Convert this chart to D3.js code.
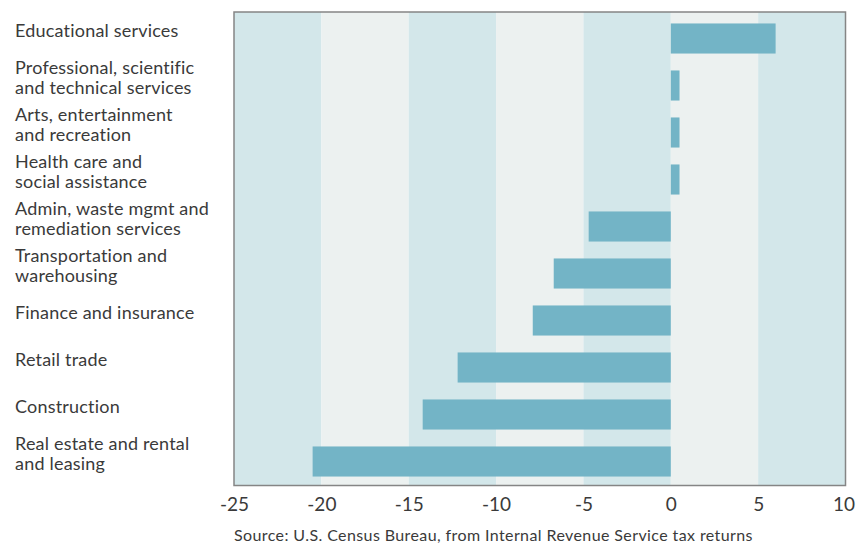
<!DOCTYPE html>
<html>
<head>
<meta charset="utf-8">
<script src="https://cdn.jsdelivr.net/npm/d3@7"></script>
<style>
  html, body { margin: 0; padding: 0; background: #fff; }
  svg { display: block; font-family: Lato, "Open Sans", sans-serif; }
</style>
</head>
<body>
<svg id="chart" width="856" height="543"></svg>
<script>
// Industries, top to bottom (line breaks mark the wrapped labels)
const categories = [
  "Educational services",
  "Professional, scientific\nand technical services",
  "Arts, entertainment\nand recreation",
  "Health care and\nsocial assistance",
  "Admin, waste mgmt and\nremediation services",
  "Transportation and\nwarehousing",
  "Finance and insurance",
  "Retail trade",
  "Construction",
  "Real estate and rental\nand leasing"
];

// Percent change per industry
const values = [6.0, 0.5, 0.5, 0.5, -4.7, -6.7, -7.9, -12.2, -14.2, -20.5];

// Axis ticks
const tickValues = [-25, -20, -15, -10, -5, 0, 5, 10];
const tickLabels = ["-25", "-20", "-15", "-10", "-5", "0", "5", "10"];

const sourceNote = "Source: U.S. Census Bureau, from Internal Revenue Service tax returns";

// ---- layout ----
const plot = { left: 234, right: 845.5, top: 12, bottom: 485.5 };
const colors = {
  bandA: "#d3e7ea",
  bandB: "#ecf1f0",
  bar: "#73b4c6",
  frame: "#858585",
  text: "#3a3a3a"
};

const svg = d3.select("#chart");

const x = d3.scaleLinear()
  .domain([tickValues[0], tickValues[tickValues.length - 1]])
  .range([plot.left, plot.right]);

const y = d3.scaleBand()
  .domain(categories)
  .range([15, 485])
  .paddingInner(0.36)
  .paddingOuter(0.18);

// Alternating vertical background bands between ticks
svg.append("g")
  .selectAll("rect")
  .data(d3.pairs(tickValues))
  .join("rect")
  .attr("x", d => x(d[0]))
  .attr("width", d => x(d[1]) - x(d[0]))
  .attr("y", plot.top)
  .attr("height", plot.bottom - plot.top)
  .attr("fill", (d, i) => i % 2 === 0 ? colors.bandA : colors.bandB);

// Bars
svg.append("g")
  .selectAll("rect")
  .data(categories.map((c, i) => ({ c, v: values[i] })))
  .join("rect")
  .attr("x", d => x(Math.min(0, d.v)))
  .attr("width", d => Math.abs(x(d.v) - x(0)))
  .attr("y", d => y(d.c))
  .attr("height", y.bandwidth())
  .attr("fill", colors.bar);

// Frame around plot area
svg.append("rect")
  .attr("x", plot.left)
  .attr("y", plot.top)
  .attr("width", plot.right - plot.left)
  .attr("height", plot.bottom - plot.top)
  .attr("fill", "none")
  .attr("stroke", colors.frame)
  .attr("stroke-width", 1.5);

// Bottom axis labels
const xAxis = d3.axisBottom(x)
  .tickValues(tickValues)
  .tickFormat((d, i) => tickLabels[i])
  .tickSize(0)
  .tickPadding(12);

const axisG = svg.append("g")
  .attr("transform", `translate(0,${plot.bottom})`)
  .call(xAxis);
axisG.select(".domain").remove();
axisG.selectAll("text")
  .attr("fill", colors.text)
  .style("font-family", "Lato, 'Open Sans', sans-serif")
  .style("font-size", "19px");
// keep the last label inside the canvas
axisG.selectAll(".tick:last-of-type text").attr("dx", "-2px");

// Category labels on the left
const lineHeight = 20;
const labels = svg.append("g")
  .attr("fill", colors.text)
  .style("font-size", "18px")
  .style("letter-spacing", "0.2px");

categories.forEach(c => {
  const lines = c.split("\n");
  const center = y(c) + y.bandwidth() / 2 - 7.5;
  const firstLine = center - (lines.length - 1) * lineHeight / 2;
  const t = labels.append("text").attr("x", 15);
  lines.forEach((ln, j) => {
    t.append("tspan")
      .attr("x", 15)
      .attr("y", firstLine + j * lineHeight + 6)
      .text(ln);
  });
});

// Source note
svg.append("text")
  .attr("x", plot.left)
  .attr("y", 541)
  .attr("fill", colors.text)
  .style("font-size", "16px")
  .style("letter-spacing", "0.4px")
  .text(sourceNote);
</script>
</body>
</html>
